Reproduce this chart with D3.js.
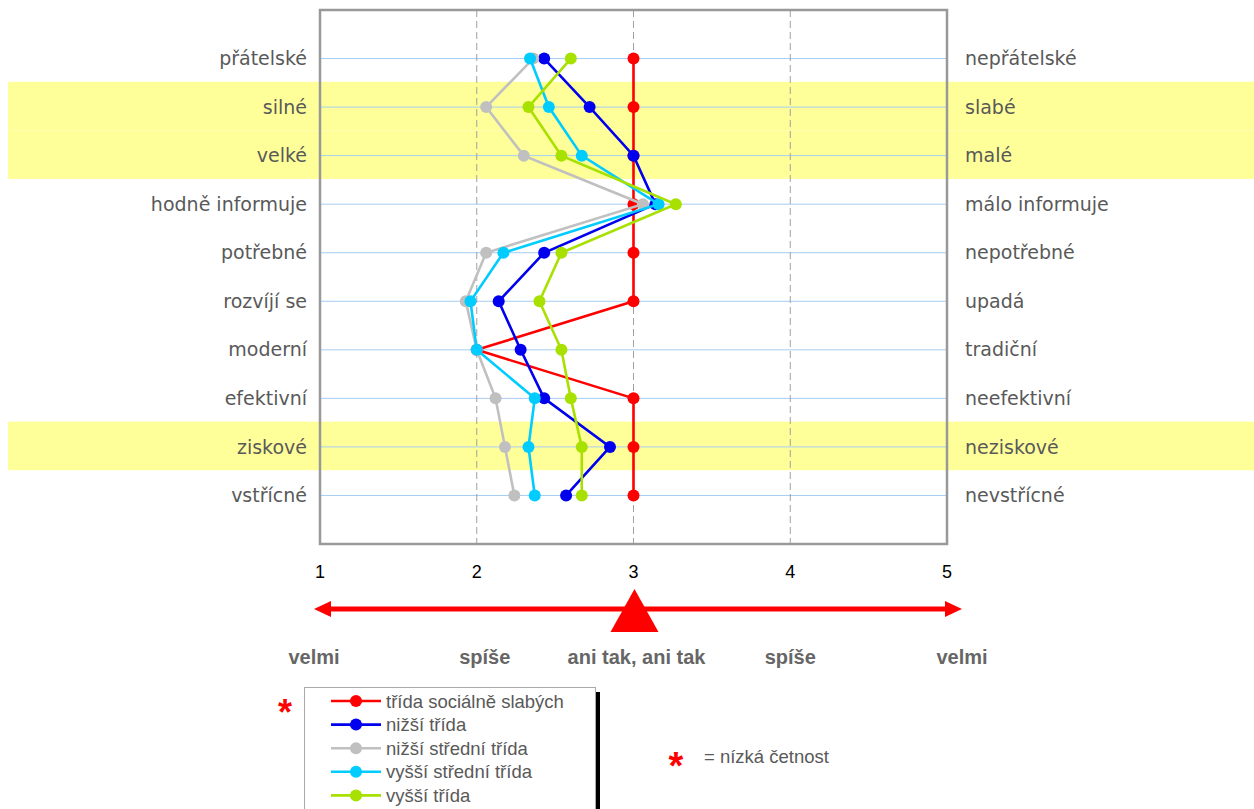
<!DOCTYPE html>
<html>
<head>
<meta charset="utf-8">
<script src="https://cdn.jsdelivr.net/npm/d3@7"></script>
<style>
  body { margin: 0; background: #fff; }
  svg { display: block; }
</style>
</head>
<body>
<div id="chart"></div>
<script>
const leftLabels = ["přátelské", "silné", "velké", "hodně informuje", "potřebné", "rozvíjí se", "moderní", "efektivní", "ziskové", "vstřícné"];
const rightLabels = ["nepřátelské", "slabé", "malé", "málo informuje", "nepotřebné", "upadá", "tradiční", "neefektivní", "neziskové", "nevstřícné"];
const highlighted = ["silné", "velké", "ziskové"];

const seriesNames = ["třída sociálně slabých", "nižší třída", "nižší střední třída", "vyšší střední třída", "vyšší třída"];
const seriesColors = ["#ff0000", "#0000ee", "#c0c0c0", "#00ccff", "#a8e000"];
const socialneSlabi = [3, 3, 3, 3, 3, 3, 2, 3, 3, 3];
const nizsi = [2.43, 2.72, 3.0, 3.14, 2.43, 2.14, 2.28, 2.43, 2.85, 2.57];
const nizsiStredni = [2.36, 2.06, 2.30, 3.06, 2.06, 1.93, 2.0, 2.12, 2.18, 2.24];
const vyssiStredni = [2.34, 2.46, 2.67, 3.16, 2.17, 1.96, 2.0, 2.37, 2.33, 2.37];
const vyssi = [2.60, 2.33, 2.54, 3.27, 2.54, 2.40, 2.54, 2.60, 2.67, 2.67];
const seriesValues = [socialneSlabi, nizsi, nizsiStredni, vyssiStredni, vyssi];

const ticks = [1, 2, 3, 4, 5];
const scaleWords = ["velmi", "spíše", "ani tak, ani tak", "spíše", "velmi"];

const W = 1254, H = 809;
const plot = { left: 320, right: 947, top: 10, bottom: 544 };

const svg = d3.select("#chart").append("svg")
    .attr("width", W)
    .attr("height", H);

const x = d3.scaleLinear().domain([1, 5]).range([plot.left, plot.right]);
const y = d3.scalePoint().domain(leftLabels).range([plot.top, plot.bottom]).padding(1);
const step = y.step();

// yellow highlight bands
svg.append("g")
    .selectAll("rect")
    .data(highlighted)
    .enter()
    .append("rect")
    .attr("x", 8)
    .attr("width", W - 8)
    .attr("y", d => y(d) - step / 2 - 1)
    .attr("height", step)
    .attr("fill", "#ffff99");

// light blue row lines
svg.append("g")
    .selectAll("line")
    .data(leftLabels)
    .enter()
    .append("line")
    .attr("x1", plot.left)
    .attr("x2", plot.right)
    .attr("y1", d => y(d))
    .attr("y2", d => y(d))
    .attr("stroke", "#a6cdf2")
    .attr("stroke-width", 1);

// dashed vertical lines
svg.append("g")
    .selectAll("line")
    .data([2, 3, 4])
    .enter()
    .append("line")
    .attr("x1", d => x(d))
    .attr("x2", d => x(d))
    .attr("y1", plot.top)
    .attr("y2", plot.bottom)
    .attr("stroke", "#a0a0a0")
    .attr("stroke-width", 1)
    .attr("stroke-dasharray", "7,4");

// frame
svg.append("rect")
    .attr("x", plot.left)
    .attr("y", plot.top)
    .attr("width", plot.right - plot.left)
    .attr("height", plot.bottom - plot.top)
    .attr("fill", "none")
    .attr("stroke", "#999")
    .attr("stroke-width", 2.5);

// row labels
const labelFont = "'DejaVu Sans', Verdana, sans-serif";
svg.append("g")
    .selectAll("text")
    .data(leftLabels)
    .enter()
    .append("text")
    .attr("x", 307)
    .attr("y", d => y(d))
    .attr("dy", "0.35em")
    .attr("text-anchor", "end")
    .attr("font-family", labelFont)
    .attr("font-size", 19)
    .attr("fill", "#595959")
    .text(d => d);

svg.append("g")
    .selectAll("text")
    .data(rightLabels)
    .enter()
    .append("text")
    .attr("x", 965)
    .attr("y", (d, i) => y(leftLabels[i]))
    .attr("dy", "0.35em")
    .attr("font-family", labelFont)
    .attr("font-size", 19)
    .attr("fill", "#595959")
    .text(d => d);

// series
const line = d3.line()
    .x(d => x(d.v))
    .y(d => y(d.row));

seriesValues.forEach((vals, si) => {
    const pts = vals.map((v, i) => ({ v: v, row: leftLabels[i] }));
    const g = svg.append("g");
    g.append("path")
        .datum(pts)
        .attr("d", line)
        .attr("fill", "none")
        .attr("stroke", seriesColors[si])
        .attr("stroke-width", 2.6);
    g.selectAll("circle")
        .data(pts)
        .enter()
        .append("circle")
        .attr("cx", d => x(d.v))
        .attr("cy", d => y(d.row))
        .attr("r", 6)
        .attr("fill", seriesColors[si]);
});

// tick numbers
svg.append("g")
    .selectAll("text")
    .data(ticks)
    .enter()
    .append("text")
    .attr("x", d => x(d))
    .attr("y", 578)
    .attr("text-anchor", "middle")
    .attr("font-family", "'Liberation Sans', Arial, sans-serif")
    .attr("font-size", 18)
    .attr("fill", "#000")
    .text(d => d);

// red double arrow with triangle
const arrowY = 609;
const leftTip = x(1) - 6, rightTip = x(5) + 15;
svg.append("line")
    .attr("x1", leftTip + 10)
    .attr("x2", rightTip - 10)
    .attr("y1", arrowY)
    .attr("y2", arrowY)
    .attr("stroke", "#ff0000")
    .attr("stroke-width", 5);
svg.append("path")
    .attr("d", `M${leftTip},${arrowY} L${leftTip + 17},${arrowY - 8} L${leftTip + 17},${arrowY + 8} Z`)
    .attr("fill", "#ff0000");
svg.append("path")
    .attr("d", `M${rightTip},${arrowY} L${rightTip - 17},${arrowY - 8} L${rightTip - 17},${arrowY + 8} Z`)
    .attr("fill", "#ff0000");
svg.append("path")
    .attr("d", `M${x(3) + 1},589 L${x(3) + 25},632 L${x(3) - 23},632 Z`)
    .attr("fill", "#ff0000");

// scale words
const wordOffsets = [-6, 8, 3, 0, 15];
svg.append("g")
    .selectAll("text")
    .data(scaleWords)
    .enter()
    .append("text")
    .attr("x", (d, i) => x(ticks[i]) + wordOffsets[i])
    .attr("y", 664)
    .attr("text-anchor", "middle")
    .attr("font-family", "'Liberation Sans', Arial, sans-serif")
    .attr("font-weight", "bold")
    .attr("font-size", 20)
    .attr("fill", "#666")
    .text(d => d);

// legend
const lg = svg.append("g");
lg.append("rect")
    .attr("x", 596)
    .attr("y", 692)
    .attr("width", 4)
    .attr("height", 130)
    .attr("fill", "#000");
lg.append("rect")
    .attr("x", 304.5)
    .attr("y", 687.5)
    .attr("width", 291)
    .attr("height", 130)
    .attr("fill", "#fff")
    .attr("stroke", "#aaa")
    .attr("stroke-width", 1);

const items = lg.selectAll("g.item")
    .data(seriesNames)
    .enter()
    .append("g")
    .attr("class", "item")
    .attr("transform", (d, i) => `translate(0, ${701 + i * 23.6})`);
items.append("line")
    .attr("x1", 331)
    .attr("x2", 381)
    .attr("stroke", (d, i) => seriesColors[i])
    .attr("stroke-width", 2.6);
items.append("circle")
    .attr("cx", 356)
    .attr("r", 6)
    .attr("fill", (d, i) => seriesColors[i]);
items.append("text")
    .attr("x", 386)
    .attr("dy", "0.36em")
    .attr("font-family", "'Liberation Sans', Arial, sans-serif")
    .attr("font-size", 18.5)
    .attr("fill", "#595959")
    .text(d => d);

// asterisks
svg.append("text")
    .attr("x", 285)
    .attr("y", 725)
    .attr("text-anchor", "middle")
    .attr("font-family", "'Liberation Sans', Arial, sans-serif")
    .attr("font-weight", "bold")
    .attr("font-size", 36)
    .attr("fill", "#ff0000")
    .text("*");
svg.append("text")
    .attr("x", 676)
    .attr("y", 779)
    .attr("text-anchor", "middle")
    .attr("font-family", "'Liberation Sans', Arial, sans-serif")
    .attr("font-weight", "bold")
    .attr("font-size", 38)
    .attr("fill", "#ff0000")
    .text("*");
svg.append("text")
    .attr("x", 704)
    .attr("y", 763)
    .attr("font-family", "'Liberation Sans', Arial, sans-serif")
    .attr("font-size", 18.5)
    .attr("fill", "#595959")
    .text("= nízká četnost");
</script>
</body>
</html>
